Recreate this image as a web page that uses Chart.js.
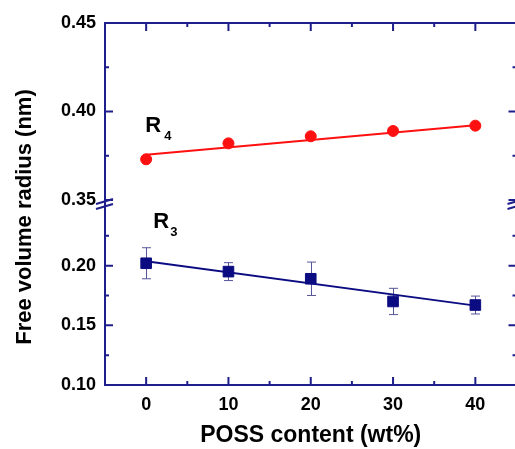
<!DOCTYPE html>
<html>
<head>
<meta charset="utf-8">
<script src="https://cdn.jsdelivr.net/npm/chart.js@4.4.1/dist/chart.umd.min.js"></script>
<style>
  html, body { margin: 0; padding: 0; background: #fff; overflow: hidden; }
  #wrap { width: 525px; height: 449px; }
</style>
</head>
<body>
<div id="wrap"><canvas id="c" width="525" height="449"></canvas></div>
<script>
(function () {
  'use strict';

  // POSS content (wt%)
  var possContent = [0, 10, 20, 30, 40];
  var r4Values = [0.373, 0.382, 0.386, 0.389, 0.392];
  var r3Values = [0.202, 0.195, 0.189, 0.170, 0.167];
  var r3Errors = [0.013, 0.0075, 0.014, 0.011, 0.0075];
  var fitX = [0, 40];
  var r4Fit = [0.3755, 0.3922];
  var r3Fit = [0.2036, 0.1665];

  var xTicks = [0, 10, 20, 30, 40];
  var xMinor = [5, 15, 25, 35];
  var yTopTicks = [0.35, 0.40, 0.45];
  var yTopMinor = [0.375, 0.425];
  var yBotTicks = [0.10, 0.15, 0.20];
  var yBotMinor = [0.125, 0.175, 0.225];

  var AXIS = '#1e1e8c';
  var RED = '#ff1010';
  var NAVY = '#0c0c82';
  var FONT = "'Liberation Sans', Arial, sans-serif";

  function pts(xs, ys) {
    return xs.map(function (x, i) { return { x: x, y: ys[i] }; });
  }

  function setTicks(list) {
    return function (scale) {
      scale.ticks = list.map(function (v) { return { value: v }; });
    };
  }

  var decor = {
    id: 'decor',
    beforeDatasetsDraw: function (chart) {
      var ctx = chart.ctx;
      var xs = chart.scales.x;
      var yb = chart.scales.yBot;
      ctx.save();
      ctx.strokeStyle = '#55559a';
      ctx.lineWidth = 1;
      possContent.forEach(function (x, i) {
        var px = Math.round(xs.getPixelForValue(x)) + 0.5;
        var top = yb.getPixelForValue(r3Values[i] + r3Errors[i]);
        var bot = yb.getPixelForValue(r3Values[i] - r3Errors[i]);
        ctx.beginPath();
        ctx.moveTo(px, top); ctx.lineTo(px, bot);
        ctx.moveTo(px - 4.5, top); ctx.lineTo(px + 4.5, top);
        ctx.moveTo(px - 4.5, bot); ctx.lineTo(px + 4.5, bot);
        ctx.stroke();
      });
      ctx.restore();
    },
    afterDraw: function (chart) {
      var ctx = chart.ctx;
      var a = chart.chartArea;
      var xs = chart.scales.x;
      var yt = chart.scales.yTop;
      var yb = chart.scales.yBot;
      ctx.save();
      ctx.strokeStyle = AXIS;
      ctx.lineWidth = 2;
      // top and right spines
      ctx.beginPath();
      ctx.moveTo(a.left, a.top); ctx.lineTo(a.right, a.top);
      ctx.moveTo(a.right, a.top); ctx.lineTo(a.right, a.bottom);
      ctx.stroke();

      // inward ticks
      ctx.beginPath();
      function xTick(v, len) {
        var p = xs.getPixelForValue(v);
        ctx.moveTo(p, a.bottom); ctx.lineTo(p, a.bottom - len);
        ctx.moveTo(p, a.top); ctx.lineTo(p, a.top + len);
      }
      function yTick(scale, v, len) {
        var p = scale.getPixelForValue(v);
        ctx.moveTo(a.left, p); ctx.lineTo(a.left + len, p);
        ctx.moveTo(a.right, p); ctx.lineTo(a.right - len, p);
      }
      xTicks.forEach(function (v) { xTick(v, 8); });
      xMinor.forEach(function (v) { xTick(v, 4); });
      yTopTicks.forEach(function (v) { yTick(yt, v, 8); });
      yTopMinor.forEach(function (v) { yTick(yt, v, 4); });
      yBotTicks.forEach(function (v) { yTick(yb, v, 8); });
      yBotMinor.forEach(function (v) { yTick(yb, v, 4); });
      ctx.stroke();

      // axis break marks
      var gy = yt.bottom + 3;
      [a.left, a.right].forEach(function (bx) {
        ctx.beginPath();
        ctx.moveTo(bx - 9, gy + 1); ctx.lineTo(bx + 8, gy - 4);
        ctx.moveTo(bx - 9, gy + 6); ctx.lineTo(bx + 8, gy + 1);
        ctx.stroke();
      });

      // series labels
      ctx.fillStyle = '#000';
      ctx.textAlign = 'left';
      ctx.textBaseline = 'alphabetic';
      var x0 = xs.getPixelForValue(0);
      ctx.font = 'bold 22px ' + FONT;
      ctx.fillText('R', x0 - 1, yt.getPixelForValue(0.3887));
      ctx.fillText('R', x0 + 7, yb.getPixelForValue(0.2314));
      ctx.font = 'bold 13px ' + FONT;
      ctx.fillText('4', x0 + 18, yt.getPixelForValue(0.3841));
      ctx.fillText('3', x0 + 24, yb.getPixelForValue(0.2247));

      // y axis title
      ctx.font = 'bold 22px ' + FONT;
      ctx.textAlign = 'center';
      ctx.textBaseline = 'middle';
      ctx.translate(25, (a.top + a.bottom) / 2 + 13);
      ctx.rotate(-Math.PI / 2);
      ctx.fillText('Free volume radius (nm)', 0, 0);
      ctx.restore();
    }
  };

  var yCommon = {
    type: 'linear',
    position: 'left',
    stack: 'radius',
    grid: { display: false, drawTicks: false },
    border: { color: AXIS, width: 2 },
    ticks: {
      color: '#000',
      padding: 9,
      font: { family: FONT, size: 18, weight: 'bold' },
      callback: function (v) { return Number(v).toFixed(2); }
    },
    afterFit: function (s) { s.width = 105; }
  };

  new Chart(document.getElementById('c'), {
    type: 'scatter',
    data: {
      datasets: [
        {
          label: 'R4 fit',
          data: pts(fitX, r4Fit),
          yAxisID: 'yTop',
          showLine: true,
          borderColor: RED,
          borderWidth: 2,
          pointRadius: 0
        },
        {
          label: 'R4',
          data: pts(possContent, r4Values),
          yAxisID: 'yTop',
          showLine: false,
          backgroundColor: RED,
          borderColor: RED,
          pointStyle: 'circle',
          pointRadius: 5.5
        },
        {
          label: 'R3 fit',
          data: pts(fitX, r3Fit),
          yAxisID: 'yBot',
          showLine: true,
          borderColor: NAVY,
          borderWidth: 2,
          pointRadius: 0
        },
        {
          label: 'R3',
          data: pts(possContent, r3Values),
          yAxisID: 'yBot',
          showLine: false,
          backgroundColor: NAVY,
          borderColor: NAVY,
          borderWidth: 1,
          pointStyle: 'rect',
          pointRadius: 7.5
        }
      ]
    },
    options: {
      responsive: false,
      animation: false,
      layout: { padding: { top: 23, right: 5.5, left: 0, bottom: 0 } },
      plugins: {
        legend: { display: false },
        tooltip: { enabled: false }
      },
      scales: {
        x: {
          type: 'linear',
          min: -5,
          max: 45,
          grid: { display: false, drawTicks: false },
          border: { color: AXIS, width: 2 },
          afterBuildTicks: setTicks(xTicks),
          afterFit: function (s) { s.height = 64; },
          ticks: {
            color: '#000',
            padding: 9,
            font: { family: FONT, size: 18, weight: 'bold' }
          },
          title: {
            display: true,
            text: 'POSS content (wt%)',
            color: '#000',
            padding: { top: 0, bottom: 0 },
            font: { family: FONT, size: 23, weight: 'bold' }
          }
        },
        yBot: Object.assign({}, yCommon, {
          min: 0.10,
          max: 0.255,
          stackWeight: 185,
          afterBuildTicks: setTicks(yBotTicks)
        }),
        yTop: Object.assign({}, yCommon, {
          min: 0.35,
          max: 0.45,
          stackWeight: 177,
          afterBuildTicks: setTicks(yTopTicks)
        })
      }
    },
    plugins: [decor]
  });
})();
</script>
</body>
</html>
